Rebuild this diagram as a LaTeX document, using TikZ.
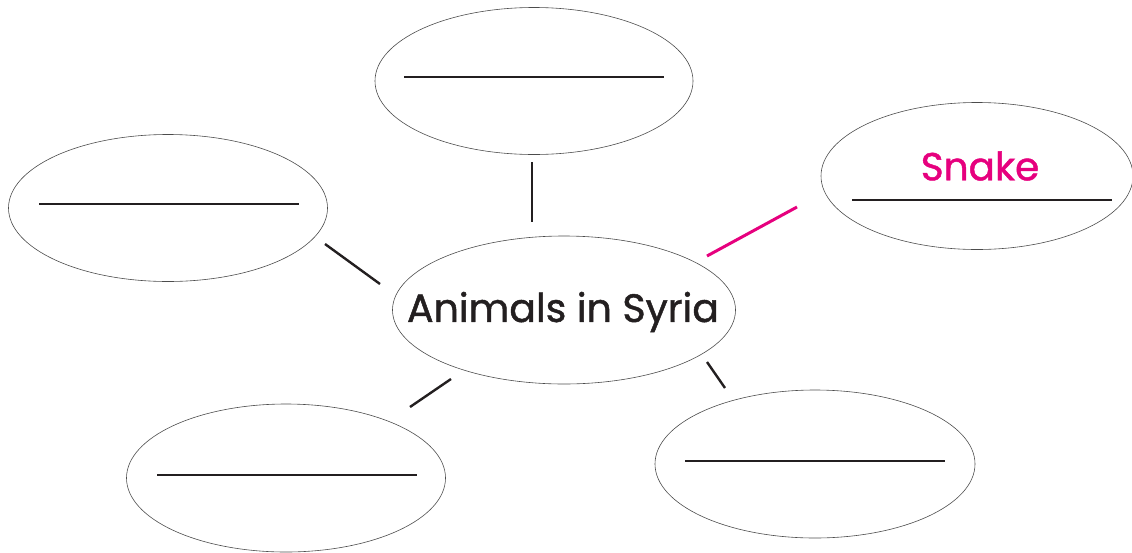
\documentclass[tikz,border=0pt]{standalone}
\usepackage{fontspec}
\setmainfont{Poppins}[FakeBold=1.2]
\usetikzlibrary{shapes.geometric}
\definecolor{ink}{HTML}{231F20}
\definecolor{pinkc}{HTML}{E6007E}
\begin{document}
\begin{tikzpicture}[x=1pt,y=-1pt,
  bubble/.style={draw=black!70,line width=0.6pt,ellipse,inner sep=0pt},
  conn/.style={draw=ink,line width=2.4pt},
  blank/.style={draw=ink,line width=2.4pt}]
\useasboundingbox (0,0) rectangle (1132,552);
\node[bubble,minimum width=318pt,minimum height=147pt] (top) at (534,81) {};
\node[bubble,minimum width=319pt,minimum height=147pt] (left) at (168,208) {};
\node[bubble,minimum width=312pt,minimum height=147pt] (snake) at (977,176) {};
\node[bubble,minimum width=343pt,minimum height=148pt] (center) at (564,310) {};
\node[bubble,minimum width=319pt,minimum height=148pt] (bl) at (286,478) {};
\node[bubble,minimum width=320pt,minimum height=148pt] (br) at (815,464) {};
\node[font=\fontsize{39.5}{44}\selectfont,text=ink] at (563,312) {Animals in Syria};
\node[font=\fontsize{39}{44}\selectfont,text=pinkc] at (980,166) {Snake};
\coordinate (t1) at (404,77); \coordinate (t2) at (664,77);
\coordinate (l1) at (39,204); \coordinate (l2) at (299,204);
\coordinate (s1) at (852,200); \coordinate (s2) at (1112,200);
\coordinate (b1) at (157,475); \coordinate (b2) at (417,475);
\coordinate (r1) at (685,461); \coordinate (r2) at (945,461);
\draw[blank] (t1) -- (t2);
\draw[blank] (l1) -- (l2);
\draw[blank] (s1) -- (s2);
\draw[blank] (b1) -- (b2);
\draw[blank] (r1) -- (r2);
\coordinate (c1a) at (532,162); \coordinate (c1b) at (532,222);
\coordinate (c2a) at (325,244); \coordinate (c2b) at (380,284);
\coordinate (c3a) at (707,256); \coordinate (c3b) at (797,207);
\coordinate (c4a) at (410,407); \coordinate (c4b) at (451,379);
\coordinate (c5a) at (707,362); \coordinate (c5b) at (725,388);
\draw[conn] (c1a) -- (c1b);
\draw[conn] (c2a) -- (c2b);
\draw[conn,draw=pinkc,line width=3pt] (c3a) -- (c3b);
\draw[conn] (c4a) -- (c4b);
\draw[conn] (c5a) -- (c5b);
\end{tikzpicture}
\end{document}
